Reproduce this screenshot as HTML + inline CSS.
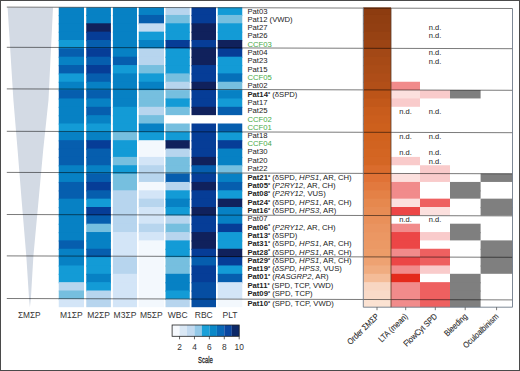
<!DOCTYPE html>
<html><head><meta charset="utf-8"><style>
html,body{margin:0;padding:0;background:#fff;width:520px;height:371px;overflow:hidden}
svg{display:block}
text{font-family:"Liberation Sans",sans-serif}
</style></head><body>
<svg width="520" height="371" viewBox="0 0 520 371">
<rect x="0" y="0" width="520" height="371" fill="#fff"/>
<polygon points="7.6,7.6 53.0,7.6 48.5,100.0 43.2,150.0 38.6,200.0 33.4,256.0 30.9,298.0 29.9,307.2 29.0,298.0 26.3,256.0 21.6,200.0 17.6,150.0 13.4,100.0" fill="#d3dae4"/>
<rect x="58.75" y="7.40" width="25.25" height="8.75" fill="#0781c4"/>
<rect x="86.25" y="7.40" width="24.65" height="8.75" fill="#0781c4"/>
<rect x="112.90" y="7.40" width="24.10" height="8.75" fill="#0781c4"/>
<rect x="138.75" y="7.40" width="25.25" height="8.75" fill="#0781c4"/>
<rect x="165.50" y="7.40" width="24.25" height="8.75" fill="#b7d5ee"/>
<rect x="191.50" y="7.40" width="24.50" height="8.75" fill="#063d97"/>
<rect x="217.75" y="7.40" width="24.50" height="8.75" fill="#139bd6"/>
<rect x="58.75" y="14.95" width="25.25" height="9.55" fill="#0781c4"/>
<rect x="86.25" y="14.95" width="24.65" height="9.55" fill="#0781c4"/>
<rect x="112.90" y="14.95" width="24.10" height="9.55" fill="#0781c4"/>
<rect x="138.75" y="14.95" width="25.25" height="9.55" fill="#065eae"/>
<rect x="165.50" y="14.95" width="24.25" height="9.55" fill="#76bfdf"/>
<rect x="191.50" y="14.95" width="24.50" height="9.55" fill="#063d97"/>
<rect x="217.75" y="14.95" width="24.50" height="9.55" fill="#76bfdf"/>
<rect x="58.75" y="23.30" width="25.25" height="9.55" fill="#0781c4"/>
<rect x="86.25" y="23.30" width="24.65" height="9.55" fill="#10215c"/>
<rect x="112.90" y="23.30" width="24.10" height="9.55" fill="#0781c4"/>
<rect x="138.75" y="23.30" width="25.25" height="9.55" fill="#c2dbf2"/>
<rect x="165.50" y="23.30" width="24.25" height="9.55" fill="#139bd6"/>
<rect x="191.50" y="23.30" width="24.50" height="9.55" fill="#10215c"/>
<rect x="217.75" y="23.30" width="24.50" height="9.55" fill="#139bd6"/>
<rect x="58.75" y="31.65" width="25.25" height="9.55" fill="#0781c4"/>
<rect x="86.25" y="31.65" width="24.65" height="9.55" fill="#063d97"/>
<rect x="112.90" y="31.65" width="24.10" height="9.55" fill="#0781c4"/>
<rect x="138.75" y="31.65" width="25.25" height="9.55" fill="#139bd6"/>
<rect x="165.50" y="31.65" width="24.25" height="9.55" fill="#139bd6"/>
<rect x="191.50" y="31.65" width="24.50" height="9.55" fill="#10215c"/>
<rect x="217.75" y="31.65" width="24.50" height="9.55" fill="#139bd6"/>
<rect x="58.75" y="40.00" width="25.25" height="9.55" fill="#139bd6"/>
<rect x="86.25" y="40.00" width="24.65" height="9.55" fill="#065eae"/>
<rect x="112.90" y="40.00" width="24.10" height="9.55" fill="#0781c4"/>
<rect x="138.75" y="40.00" width="25.25" height="9.55" fill="#0781c4"/>
<rect x="165.50" y="40.00" width="24.25" height="9.55" fill="#063d97"/>
<rect x="191.50" y="40.00" width="24.50" height="9.55" fill="#063d97"/>
<rect x="217.75" y="40.00" width="24.50" height="9.55" fill="#10215c"/>
<rect x="58.75" y="48.35" width="25.25" height="9.55" fill="#065eae"/>
<rect x="86.25" y="48.35" width="24.65" height="9.55" fill="#063d97"/>
<rect x="112.90" y="48.35" width="24.10" height="9.55" fill="#0781c4"/>
<rect x="138.75" y="48.35" width="25.25" height="9.55" fill="#b7d5ee"/>
<rect x="165.50" y="48.35" width="24.25" height="9.55" fill="#139bd6"/>
<rect x="191.50" y="48.35" width="24.50" height="9.55" fill="#10215c"/>
<rect x="217.75" y="48.35" width="24.50" height="9.55" fill="#063d97"/>
<rect x="58.75" y="56.70" width="25.25" height="9.55" fill="#0781c4"/>
<rect x="86.25" y="56.70" width="24.65" height="9.55" fill="#065eae"/>
<rect x="112.90" y="56.70" width="24.10" height="9.55" fill="#065eae"/>
<rect x="138.75" y="56.70" width="25.25" height="9.55" fill="#b7d5ee"/>
<rect x="165.50" y="56.70" width="24.25" height="9.55" fill="#139bd6"/>
<rect x="191.50" y="56.70" width="24.50" height="9.55" fill="#10215c"/>
<rect x="217.75" y="56.70" width="24.50" height="9.55" fill="#139bd6"/>
<rect x="58.75" y="65.05" width="25.25" height="9.55" fill="#065eae"/>
<rect x="86.25" y="65.05" width="24.65" height="9.55" fill="#063d97"/>
<rect x="112.90" y="65.05" width="24.10" height="9.55" fill="#139bd6"/>
<rect x="138.75" y="65.05" width="25.25" height="9.55" fill="#76bfdf"/>
<rect x="165.50" y="65.05" width="24.25" height="9.55" fill="#139bd6"/>
<rect x="191.50" y="65.05" width="24.50" height="9.55" fill="#063d97"/>
<rect x="217.75" y="65.05" width="24.50" height="9.55" fill="#139bd6"/>
<rect x="58.75" y="73.40" width="25.25" height="9.55" fill="#139bd6"/>
<rect x="86.25" y="73.40" width="24.65" height="9.55" fill="#065eae"/>
<rect x="112.90" y="73.40" width="24.10" height="9.55" fill="#0781c4"/>
<rect x="138.75" y="73.40" width="25.25" height="9.55" fill="#139bd6"/>
<rect x="165.50" y="73.40" width="24.25" height="9.55" fill="#76bfdf"/>
<rect x="191.50" y="73.40" width="24.50" height="9.55" fill="#063d97"/>
<rect x="217.75" y="73.40" width="24.50" height="9.55" fill="#0670b9"/>
<rect x="58.75" y="81.75" width="25.25" height="9.55" fill="#0781c4"/>
<rect x="86.25" y="81.75" width="24.65" height="9.55" fill="#0781c4"/>
<rect x="112.90" y="81.75" width="24.10" height="9.55" fill="#0781c4"/>
<rect x="138.75" y="81.75" width="25.25" height="9.55" fill="#0781c4"/>
<rect x="165.50" y="81.75" width="24.25" height="9.55" fill="#b7d5ee"/>
<rect x="191.50" y="81.75" width="24.50" height="9.55" fill="#10215c"/>
<rect x="217.75" y="81.75" width="24.50" height="9.55" fill="#76bfdf"/>
<rect x="58.75" y="90.10" width="25.25" height="9.55" fill="#065eae"/>
<rect x="86.25" y="90.10" width="24.65" height="9.55" fill="#065eae"/>
<rect x="112.90" y="90.10" width="24.10" height="9.55" fill="#0781c4"/>
<rect x="138.75" y="90.10" width="25.25" height="9.55" fill="#76bfdf"/>
<rect x="165.50" y="90.10" width="24.25" height="9.55" fill="#76bfdf"/>
<rect x="191.50" y="90.10" width="24.50" height="9.55" fill="#063d97"/>
<rect x="217.75" y="90.10" width="24.50" height="9.55" fill="#0781c4"/>
<rect x="58.75" y="98.45" width="25.25" height="9.55" fill="#0781c4"/>
<rect x="86.25" y="98.45" width="24.65" height="9.55" fill="#0781c4"/>
<rect x="112.90" y="98.45" width="24.10" height="9.55" fill="#0781c4"/>
<rect x="138.75" y="98.45" width="25.25" height="9.55" fill="#76bfdf"/>
<rect x="165.50" y="98.45" width="24.25" height="9.55" fill="#139bd6"/>
<rect x="191.50" y="98.45" width="24.50" height="9.55" fill="#063d97"/>
<rect x="217.75" y="98.45" width="24.50" height="9.55" fill="#139bd6"/>
<rect x="58.75" y="106.80" width="25.25" height="9.55" fill="#0781c4"/>
<rect x="86.25" y="106.80" width="24.65" height="9.55" fill="#065eae"/>
<rect x="112.90" y="106.80" width="24.10" height="9.55" fill="#139bd6"/>
<rect x="138.75" y="106.80" width="25.25" height="9.55" fill="#b7d5ee"/>
<rect x="165.50" y="106.80" width="24.25" height="8.35" fill="#76bfdf"/>
<rect x="191.50" y="106.80" width="24.50" height="8.35" fill="#10215c"/>
<rect x="217.75" y="106.80" width="24.50" height="8.35" fill="#065eae"/>
<rect x="58.75" y="115.15" width="25.25" height="9.55" fill="#0781c4"/>
<rect x="86.25" y="115.15" width="24.65" height="9.55" fill="#0781c4"/>
<rect x="112.90" y="115.15" width="24.10" height="9.55" fill="#139bd6"/>
<rect x="138.75" y="115.15" width="25.25" height="9.55" fill="#76bfdf"/>
<rect x="58.75" y="123.50" width="25.25" height="9.55" fill="#139bd6"/>
<rect x="86.25" y="123.50" width="24.65" height="9.55" fill="#139bd6"/>
<rect x="112.90" y="123.50" width="24.10" height="9.55" fill="#139bd6"/>
<rect x="138.75" y="123.50" width="25.25" height="9.55" fill="#0781c4"/>
<rect x="165.50" y="123.50" width="24.25" height="9.55" fill="#76bfdf"/>
<rect x="191.50" y="123.50" width="24.50" height="9.55" fill="#063d97"/>
<rect x="217.75" y="123.50" width="24.50" height="9.55" fill="#065eae"/>
<rect x="58.75" y="131.85" width="25.25" height="9.55" fill="#0781c4"/>
<rect x="86.25" y="131.85" width="24.65" height="9.55" fill="#0781c4"/>
<rect x="112.90" y="131.85" width="24.10" height="9.55" fill="#76bfdf"/>
<rect x="138.75" y="131.85" width="25.25" height="9.55" fill="#139bd6"/>
<rect x="165.50" y="131.85" width="24.25" height="9.55" fill="#139bd6"/>
<rect x="191.50" y="131.85" width="24.50" height="9.55" fill="#063d97"/>
<rect x="217.75" y="131.85" width="24.50" height="9.55" fill="#139bd6"/>
<rect x="58.75" y="140.20" width="25.25" height="9.55" fill="#065eae"/>
<rect x="86.25" y="140.20" width="24.65" height="9.55" fill="#063d97"/>
<rect x="112.90" y="140.20" width="24.10" height="9.55" fill="#139bd6"/>
<rect x="138.75" y="140.20" width="25.25" height="9.55" fill="#f3f8fd"/>
<rect x="165.50" y="140.20" width="24.25" height="9.55" fill="#10215c"/>
<rect x="191.50" y="140.20" width="24.50" height="9.55" fill="#063d97"/>
<rect x="217.75" y="140.20" width="24.50" height="9.55" fill="#063d97"/>
<rect x="58.75" y="148.55" width="25.25" height="9.55" fill="#065eae"/>
<rect x="86.25" y="148.55" width="24.65" height="9.55" fill="#065eae"/>
<rect x="112.90" y="148.55" width="24.10" height="9.55" fill="#139bd6"/>
<rect x="138.75" y="148.55" width="25.25" height="9.55" fill="#f3f8fd"/>
<rect x="165.50" y="148.55" width="24.25" height="9.55" fill="#b7d5ee"/>
<rect x="191.50" y="148.55" width="24.50" height="9.55" fill="#063d97"/>
<rect x="217.75" y="148.55" width="24.50" height="9.55" fill="#0781c4"/>
<rect x="58.75" y="156.90" width="25.25" height="9.55" fill="#065eae"/>
<rect x="86.25" y="156.90" width="24.65" height="9.55" fill="#065eae"/>
<rect x="112.90" y="156.90" width="24.10" height="9.55" fill="#76bfdf"/>
<rect x="138.75" y="156.90" width="25.25" height="9.55" fill="#d3e5f7"/>
<rect x="165.50" y="156.90" width="24.25" height="9.55" fill="#76bfdf"/>
<rect x="191.50" y="156.90" width="24.50" height="9.55" fill="#10215c"/>
<rect x="217.75" y="156.90" width="24.50" height="9.55" fill="#0781c4"/>
<rect x="58.75" y="165.25" width="25.25" height="9.55" fill="#0781c4"/>
<rect x="86.25" y="165.25" width="24.65" height="9.55" fill="#0781c4"/>
<rect x="112.90" y="165.25" width="24.10" height="9.55" fill="#139bd6"/>
<rect x="138.75" y="165.25" width="25.25" height="9.55" fill="#b7d5ee"/>
<rect x="165.50" y="165.25" width="24.25" height="9.55" fill="#76bfdf"/>
<rect x="191.50" y="165.25" width="24.50" height="9.55" fill="#065eae"/>
<rect x="217.75" y="165.25" width="24.50" height="9.55" fill="#76bfdf"/>
<rect x="58.75" y="173.60" width="25.25" height="9.55" fill="#0781c4"/>
<rect x="86.25" y="173.60" width="24.65" height="9.55" fill="#065eae"/>
<rect x="112.90" y="173.60" width="24.10" height="9.55" fill="#76bfdf"/>
<rect x="138.75" y="173.60" width="25.25" height="9.55" fill="#b7d5ee"/>
<rect x="165.50" y="173.60" width="24.25" height="9.55" fill="#065eae"/>
<rect x="191.50" y="173.60" width="24.50" height="9.55" fill="#063d97"/>
<rect x="217.75" y="173.60" width="24.50" height="9.55" fill="#0781c4"/>
<rect x="58.75" y="181.95" width="25.25" height="9.55" fill="#065eae"/>
<rect x="86.25" y="181.95" width="24.65" height="9.55" fill="#063d97"/>
<rect x="112.90" y="181.95" width="24.10" height="9.55" fill="#76bfdf"/>
<rect x="138.75" y="181.95" width="25.25" height="9.55" fill="#f3f8fd"/>
<rect x="165.50" y="181.95" width="24.25" height="9.55" fill="#b7d5ee"/>
<rect x="191.50" y="181.95" width="24.50" height="9.55" fill="#10215c"/>
<rect x="217.75" y="181.95" width="24.50" height="9.55" fill="#065eae"/>
<rect x="58.75" y="190.30" width="25.25" height="9.55" fill="#065eae"/>
<rect x="86.25" y="190.30" width="24.65" height="9.55" fill="#065eae"/>
<rect x="112.90" y="190.30" width="24.10" height="9.55" fill="#b7d5ee"/>
<rect x="138.75" y="190.30" width="25.25" height="9.55" fill="#d3e5f7"/>
<rect x="165.50" y="190.30" width="24.25" height="9.55" fill="#139bd6"/>
<rect x="191.50" y="190.30" width="24.50" height="9.55" fill="#063d97"/>
<rect x="217.75" y="190.30" width="24.50" height="9.55" fill="#139bd6"/>
<rect x="58.75" y="198.65" width="25.25" height="9.55" fill="#0781c4"/>
<rect x="86.25" y="198.65" width="24.65" height="9.55" fill="#139bd6"/>
<rect x="112.90" y="198.65" width="24.10" height="9.55" fill="#b7d5ee"/>
<rect x="138.75" y="198.65" width="25.25" height="9.55" fill="#b7d5ee"/>
<rect x="165.50" y="198.65" width="24.25" height="9.55" fill="#0781c4"/>
<rect x="191.50" y="198.65" width="24.50" height="9.55" fill="#063d97"/>
<rect x="217.75" y="198.65" width="24.50" height="9.55" fill="#10215c"/>
<rect x="58.75" y="207.00" width="25.25" height="9.55" fill="#0781c4"/>
<rect x="86.25" y="207.00" width="24.65" height="9.55" fill="#063d97"/>
<rect x="112.90" y="207.00" width="24.10" height="9.55" fill="#b7d5ee"/>
<rect x="138.75" y="207.00" width="25.25" height="9.55" fill="#d3e5f7"/>
<rect x="165.50" y="207.00" width="24.25" height="9.55" fill="#139bd6"/>
<rect x="191.50" y="207.00" width="24.50" height="9.55" fill="#10215c"/>
<rect x="217.75" y="207.00" width="24.50" height="9.55" fill="#0781c4"/>
<rect x="58.75" y="215.35" width="25.25" height="9.55" fill="#0781c4"/>
<rect x="86.25" y="215.35" width="24.65" height="9.55" fill="#065eae"/>
<rect x="112.90" y="215.35" width="24.10" height="9.55" fill="#b7d5ee"/>
<rect x="138.75" y="215.35" width="25.25" height="9.55" fill="#d3e5f7"/>
<rect x="165.50" y="215.35" width="24.25" height="9.55" fill="#b7d5ee"/>
<rect x="191.50" y="215.35" width="24.50" height="9.55" fill="#063d97"/>
<rect x="217.75" y="215.35" width="24.50" height="9.55" fill="#0781c4"/>
<rect x="58.75" y="223.70" width="25.25" height="9.55" fill="#0781c4"/>
<rect x="86.25" y="223.70" width="24.65" height="9.55" fill="#76bfdf"/>
<rect x="112.90" y="223.70" width="24.10" height="9.55" fill="#b7d5ee"/>
<rect x="138.75" y="223.70" width="25.25" height="9.55" fill="#b7d5ee"/>
<rect x="165.50" y="223.70" width="24.25" height="9.55" fill="#76bfdf"/>
<rect x="191.50" y="223.70" width="24.50" height="9.55" fill="#063d97"/>
<rect x="217.75" y="223.70" width="24.50" height="9.55" fill="#063d97"/>
<rect x="58.75" y="232.05" width="25.25" height="9.55" fill="#0781c4"/>
<rect x="86.25" y="232.05" width="24.65" height="9.55" fill="#0781c4"/>
<rect x="112.90" y="232.05" width="24.10" height="9.55" fill="#d3e5f7"/>
<rect x="138.75" y="232.05" width="25.25" height="9.55" fill="#d3e5f7"/>
<rect x="165.50" y="232.05" width="24.25" height="9.55" fill="#b7d5ee"/>
<rect x="191.50" y="232.05" width="24.50" height="9.55" fill="#10215c"/>
<rect x="217.75" y="232.05" width="24.50" height="9.55" fill="#139bd6"/>
<rect x="58.75" y="240.40" width="25.25" height="9.55" fill="#065eae"/>
<rect x="86.25" y="240.40" width="24.65" height="9.55" fill="#0781c4"/>
<rect x="112.90" y="240.40" width="24.10" height="9.55" fill="#d3e5f7"/>
<rect x="138.75" y="240.40" width="25.25" height="9.55" fill="#f3f8fd"/>
<rect x="165.50" y="240.40" width="24.25" height="9.55" fill="#139bd6"/>
<rect x="191.50" y="240.40" width="24.50" height="9.55" fill="#10215c"/>
<rect x="217.75" y="240.40" width="24.50" height="9.55" fill="#139bd6"/>
<rect x="58.75" y="248.75" width="25.25" height="9.55" fill="#0781c4"/>
<rect x="86.25" y="248.75" width="24.65" height="9.55" fill="#065eae"/>
<rect x="112.90" y="248.75" width="24.10" height="9.55" fill="#d3e5f7"/>
<rect x="138.75" y="248.75" width="25.25" height="9.55" fill="#f3f8fd"/>
<rect x="165.50" y="248.75" width="24.25" height="9.55" fill="#139bd6"/>
<rect x="191.50" y="248.75" width="24.50" height="9.55" fill="#063d97"/>
<rect x="217.75" y="248.75" width="24.50" height="9.55" fill="#10215c"/>
<rect x="58.75" y="257.10" width="25.25" height="9.55" fill="#0781c4"/>
<rect x="86.25" y="257.10" width="24.65" height="9.55" fill="#139bd6"/>
<rect x="112.90" y="257.10" width="24.10" height="9.55" fill="#b7d5ee"/>
<rect x="138.75" y="257.10" width="25.25" height="9.55" fill="#f3f8fd"/>
<rect x="165.50" y="257.10" width="24.25" height="9.55" fill="#76bfdf"/>
<rect x="191.50" y="257.10" width="24.50" height="9.55" fill="#065eae"/>
<rect x="217.75" y="257.10" width="24.50" height="9.55" fill="#063d97"/>
<rect x="58.75" y="265.45" width="25.25" height="9.55" fill="#139bd6"/>
<rect x="86.25" y="265.45" width="24.65" height="9.55" fill="#139bd6"/>
<rect x="112.90" y="265.45" width="24.10" height="9.55" fill="#b7d5ee"/>
<rect x="138.75" y="265.45" width="25.25" height="9.55" fill="#f3f8fd"/>
<rect x="165.50" y="265.45" width="24.25" height="9.55" fill="#76bfdf"/>
<rect x="191.50" y="265.45" width="24.50" height="9.55" fill="#063d97"/>
<rect x="217.75" y="265.45" width="24.50" height="9.55" fill="#139bd6"/>
<rect x="58.75" y="273.80" width="25.25" height="9.55" fill="#139bd6"/>
<rect x="86.25" y="273.80" width="24.65" height="9.55" fill="#0781c4"/>
<rect x="112.90" y="273.80" width="24.10" height="9.55" fill="#d3e5f7"/>
<rect x="138.75" y="273.80" width="25.25" height="9.55" fill="#f3f8fd"/>
<rect x="165.50" y="273.80" width="24.25" height="9.55" fill="#0781c4"/>
<rect x="191.50" y="273.80" width="24.50" height="9.55" fill="#063d97"/>
<rect x="217.75" y="273.80" width="24.50" height="9.55" fill="#065eae"/>
<rect x="58.75" y="282.15" width="25.25" height="9.55" fill="#b7d5ee"/>
<rect x="86.25" y="282.15" width="24.65" height="9.55" fill="#139bd6"/>
<rect x="112.90" y="282.15" width="24.10" height="9.55" fill="#d3e5f7"/>
<rect x="138.75" y="282.15" width="25.25" height="9.55" fill="#f3f8fd"/>
<rect x="165.50" y="282.15" width="24.25" height="9.55" fill="#0781c4"/>
<rect x="191.50" y="282.15" width="24.50" height="9.55" fill="#064ea2"/>
<rect x="217.75" y="282.15" width="24.50" height="9.55" fill="#d3e5f7"/>
<rect x="58.75" y="290.50" width="25.25" height="9.55" fill="#76bfdf"/>
<rect x="86.25" y="290.50" width="24.65" height="9.55" fill="#b7d5ee"/>
<rect x="112.90" y="290.50" width="24.10" height="9.55" fill="#d3e5f7"/>
<rect x="138.75" y="290.50" width="25.25" height="9.55" fill="#f3f8fd"/>
<rect x="165.50" y="290.50" width="24.25" height="9.55" fill="#139bd6"/>
<rect x="191.50" y="290.50" width="24.50" height="9.55" fill="#064ea2"/>
<rect x="217.75" y="290.50" width="24.50" height="9.55" fill="#d3e5f7"/>
<rect x="58.75" y="298.85" width="25.25" height="8.35" fill="#d3e5f7"/>
<rect x="86.25" y="298.85" width="24.65" height="8.35" fill="#b7d5ee"/>
<rect x="112.90" y="298.85" width="24.10" height="8.35" fill="#d3e5f7"/>
<rect x="138.75" y="298.85" width="25.25" height="8.35" fill="#f3f8fd"/>
<rect x="165.50" y="298.85" width="24.25" height="8.35" fill="#b7d5ee"/>
<rect x="191.50" y="298.85" width="24.50" height="8.35" fill="#064ea2"/>
<rect x="217.75" y="298.85" width="24.50" height="8.35" fill="#f3f8fd"/>
<rect x="363.30" y="7.40" width="27.70" height="8.75" fill="#8d3c10"/>
<rect x="363.30" y="14.95" width="27.70" height="9.55" fill="#903e11"/>
<rect x="363.30" y="23.30" width="27.70" height="9.55" fill="#923f12"/>
<rect x="363.30" y="31.65" width="27.70" height="9.55" fill="#974213"/>
<rect x="363.30" y="40.00" width="27.70" height="9.55" fill="#9c4414"/>
<rect x="363.30" y="48.35" width="27.70" height="9.55" fill="#a34816"/>
<rect x="363.30" y="56.70" width="27.70" height="9.55" fill="#a74a16"/>
<rect x="363.30" y="65.05" width="27.70" height="9.55" fill="#aa4c17"/>
<rect x="363.30" y="73.40" width="27.70" height="9.55" fill="#ae4d18"/>
<rect x="363.30" y="81.75" width="27.70" height="9.55" fill="#b24f18"/>
<rect x="363.30" y="90.10" width="27.70" height="9.55" fill="#bc5418"/>
<rect x="363.30" y="98.45" width="27.70" height="9.55" fill="#c2581a"/>
<rect x="363.30" y="106.80" width="27.70" height="9.55" fill="#c85c1c"/>
<rect x="363.30" y="115.15" width="27.70" height="9.55" fill="#cb5e1d"/>
<rect x="363.30" y="123.50" width="27.70" height="9.55" fill="#cd601d"/>
<rect x="363.30" y="131.85" width="27.70" height="9.55" fill="#d0621e"/>
<rect x="363.30" y="140.20" width="27.70" height="9.55" fill="#d16320"/>
<rect x="363.30" y="148.55" width="27.70" height="9.55" fill="#d36522"/>
<rect x="363.30" y="156.90" width="27.70" height="9.55" fill="#d46624"/>
<rect x="363.30" y="165.25" width="27.70" height="9.55" fill="#da6c2d"/>
<rect x="363.30" y="173.60" width="27.70" height="9.55" fill="#e07236"/>
<rect x="363.30" y="181.95" width="27.70" height="9.55" fill="#e2793e"/>
<rect x="363.30" y="190.30" width="27.70" height="9.55" fill="#e48146"/>
<rect x="363.30" y="198.65" width="27.70" height="9.55" fill="#e6884e"/>
<rect x="363.30" y="207.00" width="27.70" height="9.55" fill="#e78c54"/>
<rect x="363.30" y="215.35" width="27.70" height="9.55" fill="#e9905a"/>
<rect x="363.30" y="223.70" width="27.70" height="9.55" fill="#ea9460"/>
<rect x="363.30" y="232.05" width="27.70" height="9.55" fill="#eb9763"/>
<rect x="363.30" y="240.40" width="27.70" height="9.55" fill="#eb9965"/>
<rect x="363.30" y="248.75" width="27.70" height="9.55" fill="#ec9c68"/>
<rect x="363.30" y="257.10" width="27.70" height="9.55" fill="#eea272"/>
<rect x="363.30" y="265.45" width="27.70" height="9.55" fill="#f0ac80"/>
<rect x="363.30" y="273.80" width="27.70" height="9.55" fill="#f4bc98"/>
<rect x="363.30" y="282.15" width="27.70" height="9.55" fill="#f8d6c2"/>
<rect x="363.30" y="290.50" width="27.70" height="9.55" fill="#f9dac8"/>
<rect x="363.30" y="298.85" width="27.70" height="8.35" fill="#fbe2d2"/>
<rect x="391.00" y="81.75" width="29.00" height="9.55" fill="#f18b8b"/>
<rect x="391.00" y="90.10" width="29.00" height="9.55" fill="#fce0de"/>
<rect x="420.00" y="90.10" width="30.00" height="8.35" fill="#f9cbcb"/>
<rect x="450.00" y="90.10" width="30.60" height="8.35" fill="#7f7f7f"/>
<rect x="391.00" y="98.45" width="29.00" height="8.35" fill="#f9cbcb"/>
<rect x="391.00" y="156.90" width="29.00" height="8.35" fill="#f9cbcb"/>
<rect x="420.00" y="165.25" width="30.00" height="9.55" fill="#f9cbcb"/>
<rect x="391.00" y="173.60" width="29.00" height="9.55" fill="#fce0de"/>
<rect x="420.00" y="173.60" width="30.00" height="8.35" fill="#f9cbcb"/>
<rect x="480.60" y="173.60" width="31.90" height="8.35" fill="#7f7f7f"/>
<rect x="391.00" y="181.95" width="29.00" height="9.55" fill="#f18b8b"/>
<rect x="450.00" y="181.95" width="30.60" height="9.55" fill="#7f7f7f"/>
<rect x="391.00" y="190.30" width="29.00" height="9.55" fill="#f18b8b"/>
<rect x="450.00" y="190.30" width="30.60" height="8.35" fill="#7f7f7f"/>
<rect x="391.00" y="198.65" width="29.00" height="9.55" fill="#fce0de"/>
<rect x="420.00" y="198.65" width="30.00" height="9.55" fill="#ee6060"/>
<rect x="480.60" y="198.65" width="31.90" height="9.55" fill="#7f7f7f"/>
<rect x="391.00" y="207.00" width="29.00" height="8.35" fill="#ec4646"/>
<rect x="420.00" y="207.00" width="30.00" height="8.35" fill="#fce0de"/>
<rect x="480.60" y="207.00" width="31.90" height="8.35" fill="#7f7f7f"/>
<rect x="391.00" y="223.70" width="29.00" height="9.55" fill="#f18b8b"/>
<rect x="450.00" y="223.70" width="30.60" height="9.55" fill="#7f7f7f"/>
<rect x="391.00" y="232.05" width="29.00" height="9.55" fill="#ec4646"/>
<rect x="420.00" y="232.05" width="30.00" height="8.35" fill="#f9cbcb"/>
<rect x="450.00" y="232.05" width="30.60" height="8.35" fill="#7f7f7f"/>
<rect x="391.00" y="240.40" width="29.00" height="9.55" fill="#ec4646"/>
<rect x="480.60" y="240.40" width="31.90" height="9.55" fill="#7f7f7f"/>
<rect x="391.00" y="248.75" width="29.00" height="9.55" fill="#f18b8b"/>
<rect x="420.00" y="248.75" width="30.00" height="9.55" fill="#ee6060"/>
<rect x="480.60" y="248.75" width="31.90" height="9.55" fill="#7f7f7f"/>
<rect x="391.00" y="257.10" width="29.00" height="9.55" fill="#ec4646"/>
<rect x="420.00" y="257.10" width="30.00" height="9.55" fill="#ee6060"/>
<rect x="480.60" y="257.10" width="31.90" height="9.55" fill="#7f7f7f"/>
<rect x="391.00" y="265.45" width="29.00" height="9.55" fill="#f18b8b"/>
<rect x="420.00" y="265.45" width="30.00" height="8.35" fill="#f9cbcb"/>
<rect x="480.60" y="265.45" width="31.90" height="8.35" fill="#7f7f7f"/>
<rect x="391.00" y="273.80" width="29.00" height="9.55" fill="#e42a1c"/>
<rect x="450.00" y="273.80" width="30.60" height="9.55" fill="#7f7f7f"/>
<rect x="391.00" y="282.15" width="29.00" height="9.55" fill="#f18b8b"/>
<rect x="420.00" y="282.15" width="30.00" height="9.55" fill="#ee6060"/>
<rect x="450.00" y="282.15" width="30.60" height="9.55" fill="#7f7f7f"/>
<rect x="391.00" y="290.50" width="29.00" height="9.55" fill="#f18b8b"/>
<rect x="420.00" y="290.50" width="30.00" height="9.55" fill="#ee6060"/>
<rect x="450.00" y="290.50" width="30.60" height="9.55" fill="#7f7f7f"/>
<rect x="391.00" y="298.85" width="29.00" height="8.35" fill="#f18b8b"/>
<rect x="420.00" y="298.85" width="30.00" height="8.35" fill="#ee6060"/>
<rect x="450.00" y="298.85" width="30.60" height="8.35" fill="#7f7f7f"/>
<line x1="6.8" y1="7.10" x2="512.5" y2="8.50" stroke="#000" stroke-opacity="0.52" stroke-width="1"/>
<line x1="6.8" y1="47.30" x2="512.5" y2="48.70" stroke="#000" stroke-opacity="0.52" stroke-width="1"/>
<line x1="6.8" y1="88.90" x2="512.5" y2="90.30" stroke="#000" stroke-opacity="0.52" stroke-width="1"/>
<line x1="6.8" y1="131.30" x2="512.5" y2="132.70" stroke="#000" stroke-opacity="0.52" stroke-width="1"/>
<line x1="6.8" y1="172.40" x2="512.5" y2="173.80" stroke="#000" stroke-opacity="0.52" stroke-width="1"/>
<line x1="6.8" y1="214.50" x2="512.5" y2="215.90" stroke="#000" stroke-opacity="0.52" stroke-width="1"/>
<line x1="6.8" y1="255.90" x2="512.5" y2="257.30" stroke="#000" stroke-opacity="0.52" stroke-width="1"/>
<line x1="6.8" y1="298.50" x2="512.5" y2="299.90" stroke="#000" stroke-opacity="0.52" stroke-width="1"/>
<path d="M363.30 7.90 L363.30 307.2 L512.50 307.2 L512.50 8.50" fill="none" stroke="#6e7a8a" stroke-width="0.9"/>
<line x1="391.00" y1="7.9" x2="391.00" y2="307.2" stroke="#5a3a2a" stroke-width="0.8"/>
<line x1="377.0" y1="307.2" x2="377.0" y2="310.2" stroke="#555" stroke-width="0.8"/>
<line x1="405.7" y1="307.2" x2="405.7" y2="310.2" stroke="#555" stroke-width="0.8"/>
<line x1="435.3" y1="307.2" x2="435.3" y2="310.2" stroke="#555" stroke-width="0.8"/>
<line x1="465.2" y1="307.2" x2="465.2" y2="310.2" stroke="#555" stroke-width="0.8"/>
<line x1="496.6" y1="307.2" x2="496.6" y2="310.2" stroke="#555" stroke-width="0.8"/>
<text x="435.0" y="30.1" font-size="7.5" fill="#222" text-anchor="middle">n.d.</text>
<text x="435.0" y="38.4" font-size="7.5" fill="#222" text-anchor="middle">n.d.</text>
<text x="435.0" y="55.1" font-size="7.5" fill="#222" text-anchor="middle">n.d.</text>
<text x="435.0" y="63.5" font-size="7.5" fill="#222" text-anchor="middle">n.d.</text>
<text x="405.5" y="113.6" font-size="7.5" fill="#222" text-anchor="middle">n.d.</text>
<text x="435.0" y="113.6" font-size="7.5" fill="#222" text-anchor="middle">n.d.</text>
<text x="405.5" y="138.6" font-size="7.5" fill="#222" text-anchor="middle">n.d.</text>
<text x="435.0" y="138.6" font-size="7.5" fill="#222" text-anchor="middle">n.d.</text>
<text x="405.5" y="155.3" font-size="7.5" fill="#222" text-anchor="middle">n.d.</text>
<text x="435.0" y="155.3" font-size="7.5" fill="#222" text-anchor="middle">n.d.</text>
<text x="435.0" y="163.7" font-size="7.5" fill="#222" text-anchor="middle">n.d.</text>
<text x="405.5" y="222.1" font-size="7.5" fill="#222" text-anchor="middle">n.d.</text>
<text x="435.0" y="222.1" font-size="7.5" fill="#222" text-anchor="middle">n.d.</text>
<text x="247.4" y="13.75" font-size="7.7" fill="#222">Pat03</text>
<text x="247.4" y="22.00" font-size="7.7" fill="#222">Pat12 (VWD)</text>
<text x="247.4" y="30.20" font-size="7.7" fill="#222">Pat27</text>
<text x="247.4" y="38.40" font-size="7.7" fill="#222">Pat26</text>
<text x="247.4" y="46.90" font-size="7.7" fill="#48aa48">CCF03</text>
<text x="247.4" y="54.90" font-size="7.7" fill="#222">Pat04</text>
<text x="247.4" y="63.30" font-size="7.7" fill="#222">Pat23</text>
<text x="247.4" y="71.60" font-size="7.7" fill="#222">Pat15</text>
<text x="247.4" y="79.80" font-size="7.7" fill="#48aa48">CCF05</text>
<text x="247.4" y="88.20" font-size="7.7" fill="#222">Pat02</text>
<text x="247.4" y="96.80" font-size="7.7" fill="#222"><tspan font-weight="bold">Pat14</tspan><tspan font-weight="bold" font-size="5.5" dy="-1.1">*</tspan><tspan dy="1.1"> (δSPD)</tspan></text>
<text x="247.4" y="105.10" font-size="7.7" fill="#222">Pat17</text>
<text x="247.4" y="113.40" font-size="7.7" fill="#222">Pat25</text>
<text x="247.4" y="121.60" font-size="7.7" fill="#48aa48">CCF02</text>
<text x="247.4" y="129.80" font-size="7.7" fill="#48aa48">CCF01</text>
<text x="247.4" y="137.80" font-size="7.7" fill="#222">Pat18</text>
<text x="247.4" y="146.10" font-size="7.7" fill="#48aa48">CCF04</text>
<text x="247.4" y="154.40" font-size="7.7" fill="#222">Pat30</text>
<text x="247.4" y="162.80" font-size="7.7" fill="#222">Pat20</text>
<text x="247.4" y="171.20" font-size="7.7" fill="#222">Pat22</text>
<text x="247.4" y="179.70" font-size="7.7" fill="#222"><tspan font-weight="bold">Pat21</tspan><tspan font-weight="bold" font-size="5.5" dy="-1.1">*</tspan><tspan dy="1.1"> (δSPD, <tspan font-style="italic">HPS1</tspan>, AR, CH)</tspan></text>
<text x="247.4" y="188.00" font-size="7.7" fill="#222"><tspan font-weight="bold">Pat05</tspan><tspan font-weight="bold" font-size="5.5" dy="-1.1">*</tspan><tspan dy="1.1"> (<tspan font-style="italic">P2RY12</tspan>, AR, CH)</tspan></text>
<text x="247.4" y="196.40" font-size="7.7" fill="#222"><tspan font-weight="bold">Pat08</tspan><tspan font-weight="bold" font-size="5.5" dy="-1.1">*</tspan><tspan dy="1.1"> (<tspan font-style="italic">P2RY12</tspan>, VUS)</tspan></text>
<text x="247.4" y="204.70" font-size="7.7" fill="#222"><tspan font-weight="bold">Pat24</tspan><tspan font-weight="bold" font-size="5.5" dy="-1.1">*</tspan><tspan dy="1.1"> (δSPD, <tspan font-style="italic">HPS1</tspan>, AR, CH)</tspan></text>
<text x="247.4" y="213.10" font-size="7.7" fill="#222"><tspan font-weight="bold">Pat16</tspan><tspan font-weight="bold" font-size="5.5" dy="-1.1">*</tspan><tspan dy="1.1"> (δSPD, <tspan font-style="italic">HPS3</tspan>, AR)</tspan></text>
<text x="247.4" y="221.20" font-size="7.7" fill="#222">Pat07</text>
<text x="247.4" y="229.50" font-size="7.7" fill="#222"><tspan font-weight="bold">Pat06</tspan><tspan font-weight="bold" font-size="5.5" dy="-1.1">*</tspan><tspan dy="1.1"> (<tspan font-style="italic">P2RY12</tspan>, AR, CH)</tspan></text>
<text x="247.4" y="237.80" font-size="7.7" fill="#222"><tspan font-weight="bold">Pat13</tspan><tspan font-weight="bold" font-size="5.5" dy="-1.1">*</tspan><tspan dy="1.1"> (δSPD)</tspan></text>
<text x="247.4" y="246.20" font-size="7.7" fill="#222"><tspan font-weight="bold">Pat31</tspan><tspan font-weight="bold" font-size="5.5" dy="-1.1">*</tspan><tspan dy="1.1"> (δSPD, <tspan font-style="italic">HPS1</tspan>, AR, CH)</tspan></text>
<text x="247.4" y="254.50" font-size="7.7" fill="#222"><tspan font-weight="bold">Pat28</tspan><tspan font-weight="bold" font-size="5.5" dy="-1.1">*</tspan><tspan dy="1.1"> (δSPD, <tspan font-style="italic">HPS1</tspan>, AR, CH)</tspan></text>
<text x="247.4" y="262.90" font-size="7.7" fill="#222"><tspan font-weight="bold">Pat29</tspan><tspan font-weight="bold" font-size="5.5" dy="-1.1">*</tspan><tspan dy="1.1"> (δSPD, <tspan font-style="italic">HPS1</tspan>, AR, CH)</tspan></text>
<text x="247.4" y="271.10" font-size="7.7" fill="#222"><tspan font-weight="bold">Pat19</tspan><tspan font-weight="bold" font-size="5.5" dy="-1.1">*</tspan><tspan dy="1.1"> (<tspan font-style="italic">δSPD, HPS3</tspan>, VUS)</tspan></text>
<text x="247.4" y="279.40" font-size="7.7" fill="#222"><tspan font-weight="bold">Pat01</tspan><tspan font-weight="bold" font-size="5.5" dy="-1.1">*</tspan><tspan dy="1.1"> (<tspan font-style="italic">RASGRP2</tspan>, AR)</tspan></text>
<text x="247.4" y="287.60" font-size="7.7" fill="#222"><tspan font-weight="bold">Pat11</tspan><tspan font-weight="bold" font-size="5.5" dy="-1.1">*</tspan><tspan dy="1.1"> (SPD, TCP, VWD)</tspan></text>
<text x="247.4" y="295.80" font-size="7.7" fill="#222"><tspan font-weight="bold">Pat09</tspan><tspan font-weight="bold" font-size="5.5" dy="-1.1">*</tspan><tspan dy="1.1"> (SPD, TCP)</tspan></text>
<text x="247.4" y="306.00" font-size="7.7" fill="#222"><tspan font-weight="bold">Pat10</tspan><tspan font-weight="bold" font-size="5.5" dy="-1.1">*</tspan><tspan dy="1.1"> (SPD, TCP, VWD)</tspan></text>
<text x="29.3" y="318" font-size="8.3" fill="#333" text-anchor="middle">ΣMΣP</text>
<text x="71.38" y="318" font-size="8.5" fill="#333" text-anchor="middle">M1ΣP</text>
<text x="98.58" y="318" font-size="8.5" fill="#333" text-anchor="middle">M2ΣP</text>
<text x="124.95" y="318" font-size="8.5" fill="#333" text-anchor="middle">M3ΣP</text>
<text x="151.38" y="318" font-size="8.5" fill="#333" text-anchor="middle">M5ΣP</text>
<text x="177.62" y="318" font-size="8.5" fill="#333" text-anchor="middle">WBC</text>
<text x="203.75" y="318" font-size="8.5" fill="#333" text-anchor="middle">RBC</text>
<text x="230.00" y="318" font-size="8.5" fill="#333" text-anchor="middle">PLT</text>
<text x="0" y="0" font-size="8.5" fill="#2a2a2a" stroke="#2a2a2a" stroke-width="0.1" text-anchor="end" transform="translate(379.6,317.0) rotate(-44) scale(0.86,1)">Order ΣMΣP</text>
<text x="0" y="0" font-size="8.5" fill="#2a2a2a" stroke="#2a2a2a" stroke-width="0.1" text-anchor="end" transform="translate(408.3,317.0) rotate(-44) scale(0.86,1)">LTA (mean)</text>
<text x="0" y="0" font-size="8.5" fill="#2a2a2a" stroke="#2a2a2a" stroke-width="0.1" text-anchor="end" transform="translate(437.9,317.0) rotate(-44) scale(0.86,1)">FlowCyt SPD</text>
<text x="0" y="0" font-size="8.5" fill="#2a2a2a" stroke="#2a2a2a" stroke-width="0.1" text-anchor="end" transform="translate(467.8,317.0) rotate(-44) scale(0.86,1)">Bleeding</text>
<text x="0" y="0" font-size="8.5" fill="#2a2a2a" stroke="#2a2a2a" stroke-width="0.1" text-anchor="end" transform="translate(499.2,317.0) rotate(-44) scale(0.86,1)">Oculoalbinism</text>
<rect x="172.10" y="325.00" width="7.51" height="11.30" fill="#f6f9fd"/>
<rect x="179.56" y="325.00" width="7.51" height="11.30" fill="#dae8f5"/>
<rect x="187.01" y="325.00" width="7.51" height="11.30" fill="#c2daf0"/>
<rect x="194.47" y="325.00" width="7.51" height="11.30" fill="#94c9e8"/>
<rect x="201.92" y="325.00" width="7.51" height="11.30" fill="#1aa0d8"/>
<rect x="209.38" y="325.00" width="7.51" height="11.30" fill="#0a88c8"/>
<rect x="216.83" y="325.00" width="7.51" height="11.30" fill="#0a68b8"/>
<rect x="224.29" y="325.00" width="7.51" height="11.30" fill="#0a46a0"/>
<rect x="231.74" y="325.00" width="7.51" height="11.30" fill="#0c2868"/>
<rect x="172.10" y="325.00" width="67.10" height="11.30" fill="none" stroke="#222" stroke-width="0.8"/>
<line x1="179.56" y1="336.30" x2="179.56" y2="339.30" stroke="#222" stroke-width="0.7"/>
<text x="179.56" y="350.3" font-size="8.4" fill="#333" text-anchor="middle">2</text>
<line x1="194.47" y1="336.30" x2="194.47" y2="339.30" stroke="#222" stroke-width="0.7"/>
<text x="194.47" y="350.3" font-size="8.4" fill="#333" text-anchor="middle">4</text>
<line x1="209.38" y1="336.30" x2="209.38" y2="339.30" stroke="#222" stroke-width="0.7"/>
<text x="209.38" y="350.3" font-size="8.4" fill="#333" text-anchor="middle">6</text>
<line x1="224.29" y1="336.30" x2="224.29" y2="339.30" stroke="#222" stroke-width="0.7"/>
<text x="224.29" y="350.3" font-size="8.4" fill="#333" text-anchor="middle">8</text>
<line x1="239.20" y1="336.30" x2="239.20" y2="339.30" stroke="#222" stroke-width="0.7"/>
<text x="239.20" y="350.3" font-size="8.4" fill="#333" text-anchor="middle">10</text>
<text x="0" y="0" font-size="9" fill="#222" stroke="#222" stroke-width="0.25" text-anchor="middle" transform="translate(205.5,362.8) scale(0.66,1)">Scale</text>
<rect x="0.5" y="0.5" width="519" height="370" fill="none" stroke="#4a4a4a" stroke-width="1"/>
</svg></body></html>
